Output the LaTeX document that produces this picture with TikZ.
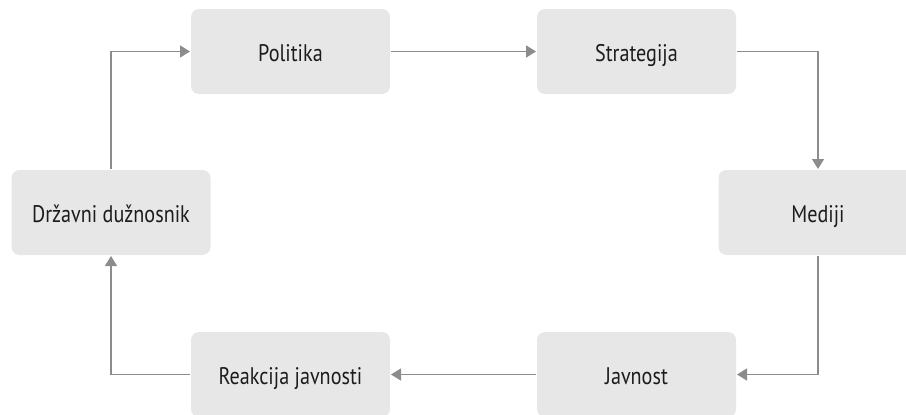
\documentclass[tikz,border=0pt]{standalone}
\usepackage{fontspec}
\setmainfont[FakeStretch=0.84]{PT Sans}
\usetikzlibrary{arrows.meta}
\definecolor{boxfill}{HTML}{E7E7E7}
\definecolor{linkgray}{HTML}{8C8C8C}
\definecolor{labelink}{HTML}{1C1C1C}
\begin{document}
\begin{tikzpicture}[x=1pt,y=-1pt,
  stage/.style={fill=boxfill, rounded corners=8pt, minimum width=199pt,
    minimum height=85pt, inner sep=0pt, outer sep=1pt,
    text height=20pt, text depth=0pt,
    font=\fontsize{24}{28}\selectfont, text=labelink},
  link/.style={draw=linkgray, line width=1.4pt,
    -{Triangle[length=10pt,width=12pt]}}]
\useasboundingbox (0,0) rectangle (906,415);
\clip (0,0) rectangle (906,415);

\node[stage] (pol) at (290.5,51.5) {Politika};
\node[stage] (str) at (636.5,51.5) {Strategija};
\node[stage] (med) at (818,212.5) {Mediji};
\node[stage] (jav) at (636.5,374.5) {Javnost};
\node[stage] (rea) at (290.5,374.5) {Reakcija javnosti};
\node[stage] (drz) at (111,212.5) {Državni dužnosnik};

\draw[link] (pol.east) -- (str.west);
\draw[link] (str.east) -| (med.north);
\draw[link] (med.south) |- (jav.east);
\draw[link] (jav.west) -- (rea.east);
\draw[link] (rea.west) -| (drz.south);
\draw[link] (drz.north) |- (pol.west);
\end{tikzpicture}
\end{document}
